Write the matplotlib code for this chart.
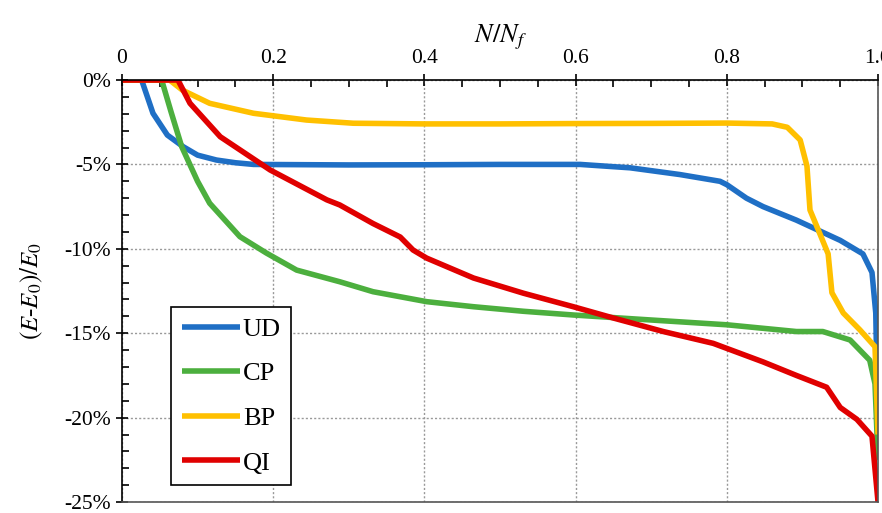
import numpy as np
import matplotlib
matplotlib.use('Agg')
import matplotlib.pyplot as plt
from matplotlib.ticker import MultipleLocator, FuncFormatter

plt.rcParams['font.family'] = ['Liberation Serif', 'DejaVu Serif']
plt.rcParams['mathtext.fontset'] = 'stix'

# 读图估计的数据: N/Nf 与 (E-E0)/E0 (%)
ud_x = [0, 0.026, 0.041, 0.06, 0.081, 0.1, 0.125, 0.15, 0.174, 0.3, 0.4, 0.5, 0.606,
        0.672, 0.738, 0.791, 0.8, 0.826, 0.848, 0.892, 0.95, 0.98, 0.992, 0.997, 1.0]
ud_y = [0, 0, -1.97, -3.26, -3.95, -4.45, -4.74, -4.9, -5.0, -5.03, -5.02, -5.0, -5.0,
        -5.2, -5.6, -6.0, -6.2, -7.0, -7.5, -8.3, -9.5, -10.3, -11.4, -13.8, -21.0]

cp_x = [0, 0.0525, 0.065, 0.079, 0.1, 0.116, 0.156, 0.191, 0.231, 0.288, 0.332, 0.403,
        0.465, 0.531, 0.597, 0.694, 0.8, 0.892, 0.927, 0.963, 0.989, 0.996, 1.0]
cp_y = [0, 0, -1.9, -3.95, -6.0, -7.3, -9.28, -10.25, -11.26, -11.95, -12.54, -13.13,
        -13.43, -13.7, -13.92, -14.2, -14.5, -14.9, -14.9, -15.4, -16.6, -18.0, -22.5]

bp_x = [0, 0.063, 0.08, 0.116, 0.174, 0.244, 0.306, 0.4, 0.5, 0.6, 0.7, 0.8, 0.86, 0.88,
        0.897, 0.906, 0.91, 0.923, 0.934, 0.939, 0.954, 0.976, 0.996, 1.0]
bp_y = [0, 0, -0.6, -1.38, -1.97, -2.37, -2.56, -2.6, -2.6, -2.58, -2.57, -2.55, -2.6,
        -2.8, -3.55, -5.1, -7.7, -9.1, -10.3, -12.6, -13.8, -14.8, -15.8, -21.0]

qi_x = [0, 0.074, 0.09, 0.13, 0.196, 0.271, 0.288, 0.332, 0.368, 0.385, 0.403, 0.465,
        0.531, 0.597, 0.65, 0.716, 0.782, 0.8, 0.848, 0.892, 0.932, 0.95, 0.972, 0.992, 1.0]
qi_y = [0, 0, -1.38, -3.36, -5.33, -7.1, -7.4, -8.5, -9.3, -10.07, -10.55, -11.73,
        -12.63, -13.43, -14.1, -14.9, -15.6, -15.9, -16.7, -17.5, -18.2, -19.4, -20.1,
        -21.1, -25.0]

series = [
    ('UD', ud_x, ud_y, '#1F6FC5'),
    ('CP', cp_x, cp_y, '#4CAF3E'),
    ('BP', bp_x, bp_y, '#FFC000'),
    ('QI', qi_x, qi_y, '#E00000'),
]

fig = plt.figure(figsize=(8.82, 5.13), dpi=100)
ax = fig.add_axes([0.1383, 0.0214, 0.8572, 0.8226])

for name, xs, ys, c in series:
    ax.plot(xs, ys, color=c, lw=4, label=name, solid_capstyle='butt')

ax.set_xlim(0, 1)
ax.set_ylim(-25, 0)
ax.xaxis.tick_top()
ax.xaxis.set_label_position('top')
ax.xaxis.set_major_locator(MultipleLocator(0.2))
ax.xaxis.set_minor_locator(MultipleLocator(0.05))
ax.yaxis.set_major_locator(MultipleLocator(5))
ax.yaxis.set_minor_locator(MultipleLocator(1))
ax.xaxis.set_major_formatter(FuncFormatter(lambda v, p: '0' if v == 0 else ('1' if v == 1 else f'{v:.1f}')))
ax.yaxis.set_major_formatter(FuncFormatter(lambda v, p: f'{v:.0f}%'.replace('−', '-')))

ax.tick_params(which='major', direction='inout', length=9, width=1.2, labelsize=15.5)
ax.tick_params(which='minor', direction='in', length=5, width=1.2)
ax.tick_params(axis='x', which='both', top=True, bottom=False, pad=4)
ax.tick_params(axis='y', which='both', left=True, right=False)

ax.grid(True, which='major', color='#999999', linestyle=(0, (1.5, 1.5)), lw=1)
for s in ax.spines.values():
    s.set_linewidth(1.2)
ax.spines['right'].set_color('#555555')
ax.spines['bottom'].set_color('#555555')

ax.set_xlabel(r'$N/N_f$', fontsize=19, labelpad=5)
ax.set_ylabel(r'$(E$-$E_0)/E_0$', fontsize=18, labelpad=14)

leg = ax.legend(loc='lower left', bbox_to_anchor=(0.065, 0.04), fontsize=19,
                frameon=True, fancybox=False, edgecolor='black', framealpha=1,
                handlelength=2.2, handletextpad=0.12, labelspacing=0.8,
                borderpad=0.4, borderaxespad=0)
leg.get_frame().set_linewidth(1.2)

plt.savefig('out.png', dpi=100)
